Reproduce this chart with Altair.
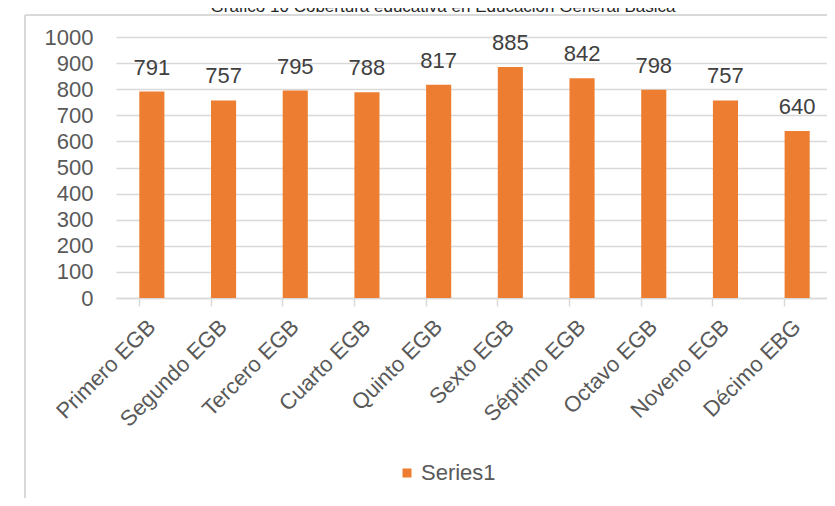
import altair as alt
import pandas as pd

categories = ["Primero EGB", "Segundo EGB", "Tercero EGB", "Cuarto EGB", "Quinto EGB",
              "Sexto EGB", "Séptimo EGB", "Octavo EGB", "Noveno EGB", "Décimo EBG"]
values = [791, 757, 795, 788, 817, 885, 842, 798, 757, 640]
series_name = "Series1"
title_text = "Gráfico 10 Cobertura educativa en Educación General Básica"
y_ticks = [0, 100, 200, 300, 400, 500, 600, 700, 800, 900, 1000]

FONT = "Liberation Sans"
ORANGE = "#ED7D31"
GRID = "#d9d9d9"

df = pd.DataFrame({"cat": categories, "val": values, "series": [series_name] * len(categories)})
one = pd.DataFrame({"a": [0]})

x_enc = alt.X("cat:N", sort=categories,
              scale=alt.Scale(range=[0, 717], paddingInner=0.65, paddingOuter=0.325),
              axis=alt.Axis(title=None, bandPosition=0,
                            labelAngle=-45, labelAlign="right", labelBaseline="middle",
                            labelFont=FONT, labelFontSize=22, labelColor="#595959",
                            labelPadding=17, labelOverlap=False,
                            ticks=True, tickSize=8, tickColor=GRID, tickWidth=1.5,
                            domain=True, domainColor=GRID, domainWidth=1.5, grid=False))
y_enc = alt.Y("val:Q", scale=alt.Scale(domain=[0, 1000], nice=False),
              axis=alt.Axis(title=None, values=y_ticks, format="d", ticks=False, domain=False,
                            labelOverlap=False,
                            labelFont=FONT, labelFontSize=22, labelColor="#595959",
                            labelPadding=23, grid=True, gridColor=GRID, gridWidth=1.5))

base = alt.Chart(df)

bars = base.mark_bar().encode(
    x=x_enc, y=y_enc,
    color=alt.Color("series:N", scale=alt.Scale(domain=[series_name], range=[ORANGE]),
                    legend=alt.Legend(title=None, orient="none", legendX=280, legendY=425,
                                      symbolType="square", symbolSize=81, symbolStrokeWidth=0,
                                      labelFont=FONT, labelFontSize=22, labelColor="#595959",
                                      labelOffset=3, padding=0))
)

labels = base.mark_text(font=FONT, fontSize=22, color="#404040", baseline="alphabetic", dy=-17).encode(
    x=x_enc, y=y_enc, text=alt.Text("val:Q")
)

frame_v = alt.Chart(one).mark_rule(color=GRID, strokeWidth=2).encode(
    x=alt.value(-91), y=alt.value(-22), y2=alt.value(470))
frame_h = alt.Chart(one).mark_rule(color=GRID, strokeWidth=2).encode(
    x=alt.value(-91), x2=alt.value(720), y=alt.value(-22))

title = alt.Chart(one).mark_text(font=FONT, fontSize=17, color="#262626",
                                 baseline="alphabetic", align="center").encode(
    x=alt.value(327), y=alt.value(-25), text=alt.value(title_text))

chart = alt.layer(frame_v, frame_h, title, bars, labels).properties(
    width=711, height=261,
    autosize=alt.AutoSizeParams(type="none"),
    padding={"left": 108, "top": 29, "right": 0, "bottom": 200},
).configure_view(stroke=None)

chart.save("out.html", embed_options={"renderer": "svg", "actions": False})
